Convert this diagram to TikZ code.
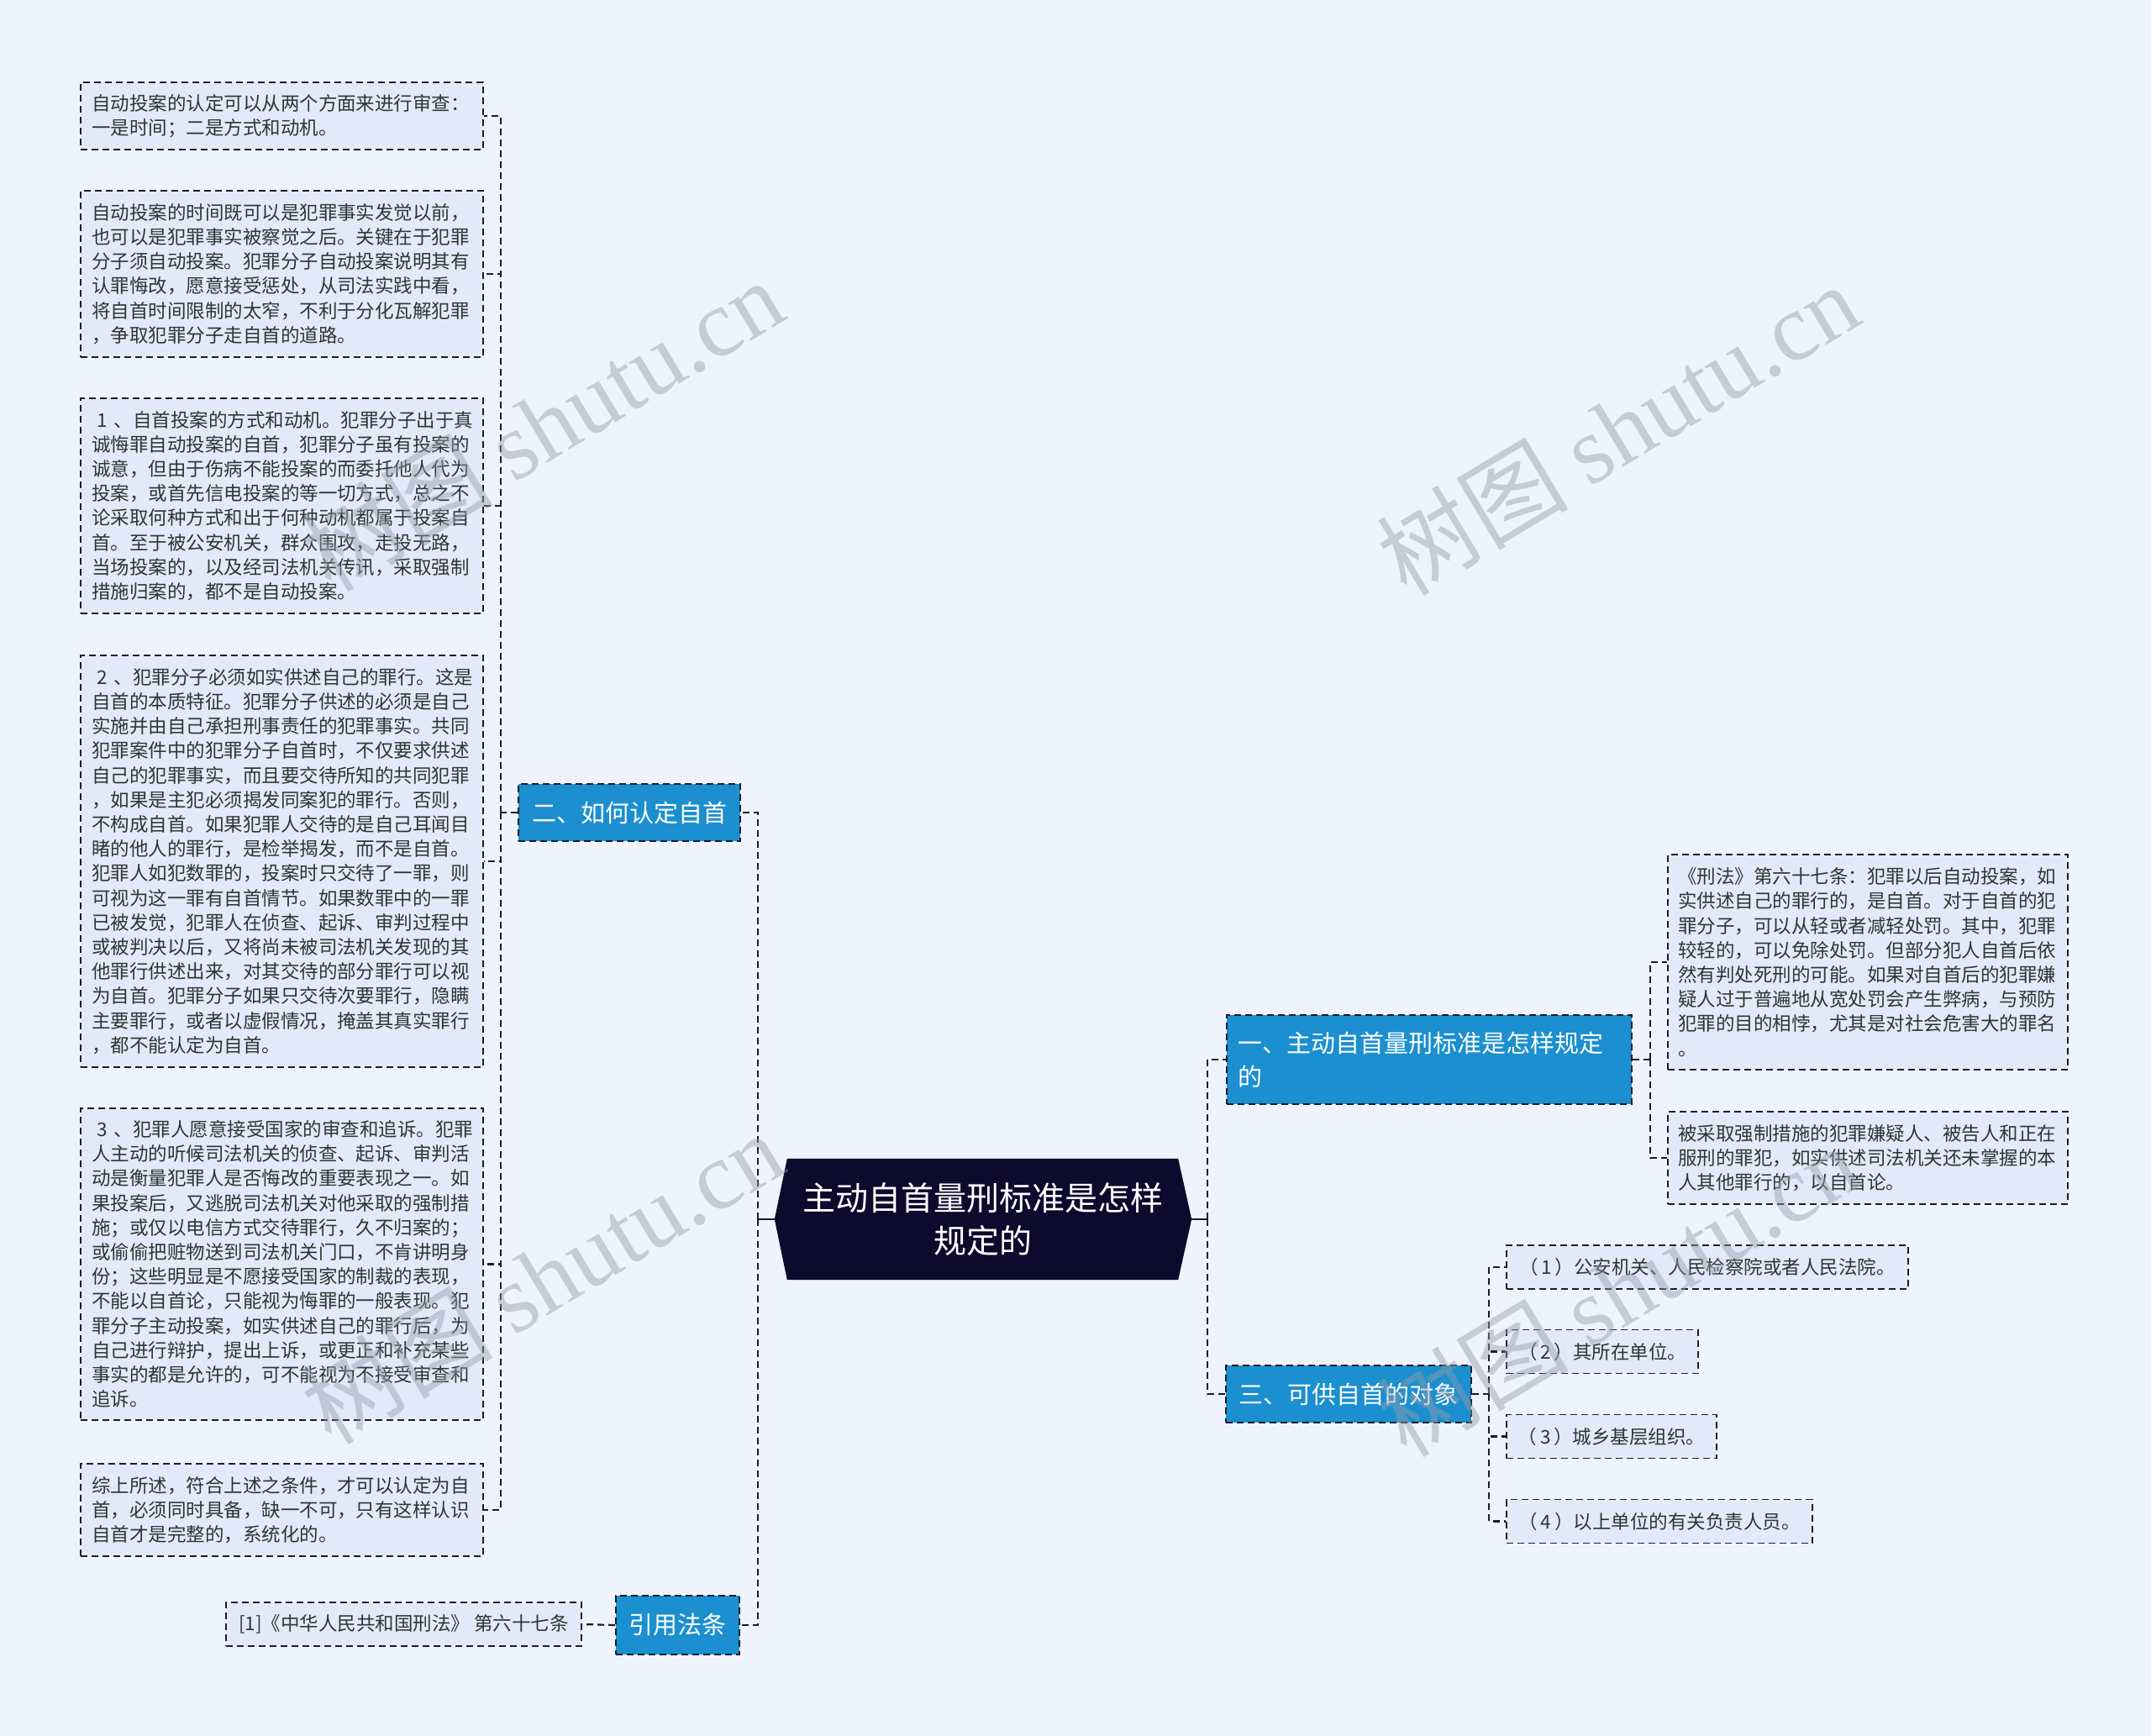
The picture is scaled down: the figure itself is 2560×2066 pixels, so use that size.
\documentclass[tikz,border=0pt]{standalone}
\usepackage{fontspec}
\setmainfont{Noto Sans CJK SC}
\newfontfamily\wmfont{Liberation Serif}
\usetikzlibrary{calc}
\definecolor{bg}{RGB}{238,243,254}
\definecolor{leaffill}{RGB}{226,234,250}
\definecolor{bluefill}{RGB}{27,143,208}
\definecolor{rootfill}{RGB}{13,10,46}
\definecolor{txt}{RGB}{51,51,51}
\definecolor{edge}{RGB}{28,28,38}
\definecolor{wm}{RGB}{150,155,168}
\begin{document}
\begin{tikzpicture}[x=1pt,y=-1pt,
  conn/.style={draw=edge, line width=2.2pt, dash pattern=on 8pt off 5pt},
  solidconn/.style={draw=edge, line width=2.2pt},
  leaf/.style={draw=edge, line width=1.8pt, dash pattern=on 8pt off 5pt, fill=leaffill, text=txt, align=left, inner xsep=13pt, inner ysep=0pt, font=\fontsize{22.5}{29.2}\selectfont},
  item/.style={draw=edge, line width=1.8pt, dash pattern=on 8pt off 5pt, fill=leaffill, text=txt, inner xsep=10pt, inner ysep=0pt, minimum height=52pt, font=\fontsize{22.5}{29.2}\selectfont},
  topic/.style={draw=edge, line width=1.8pt, dash pattern=on 8pt off 5pt, fill=bluefill, text=white, inner xsep=13pt, inner ysep=0pt, font=\fontsize{29}{40}\selectfont},
  wmark/.style={text=wm, opacity=0.45, rotate=31, font=\fontsize{114}{114}\selectfont}
]
\useasboundingbox[fill=bg] (0,0) rectangle (2560,2066);

% root
\node[inner sep=0pt, minimum width=496pt, minimum height=144pt] (root) at (1170,1451) {};
\fill[rootfill] (root.west) -- ($(root.north west)+(15,0)$) -- ($(root.north east)+(-16,0)$) -- (root.east) -- ($(root.south east)+(-16,0)$) -- ($(root.south west)+(15,0)$) -- cycle;
\node[text=white, align=center, font=\fontsize{39}{51}\selectfont] (roottext) at (root.center) {主动自首量刑标准是怎样\\规定的};

% main topics
\node[topic, minimum width=264pt, minimum height=68pt] (n2) at (749,967) {二、如何认定自首};
\node[topic, minimum width=147pt, minimum height=70pt] (cite) at (806.5,1934) {引用法条};
\node[topic, text width=456pt, align=left, minimum height=106pt] (n1) at (1701,1261) {一、主动自首量刑标准是怎样规定\\的};
\node[topic, minimum width=292pt, minimum height=68pt] (n3) at (1605,1659) {三、可供自首的对象};

% left leaves
\node[leaf, text width=453pt, minimum height=80pt] (b1) at (335.5,138) {自动投案的认定可以从两个方面来进行审查：\\一是时间；二是方式和动机。};
\node[leaf, text width=453pt, minimum height=198pt] (b2) at (335.5,326) {自动投案的时间既可以是犯罪事实发觉以前，\\也可以是犯罪事实被察觉之后。关键在于犯罪\\分子须自动投案。犯罪分子自动投案说明其有\\认罪悔改，愿意接受惩处，从司法实践中看，\\将自首时间限制的太窄，不利于分化瓦解犯罪\\，争取犯罪分子走自首的道路。};
\node[leaf, text width=453pt, minimum height=256pt] (b3) at (335.5,602) {\hspace*{0.3em}1 、自首投案的方式和动机。犯罪分子出于真\\诚悔罪自动投案的自首，犯罪分子虽有投案的\\诚意，但由于伤病不能投案的而委托他人代为\\投案，或首先信电投案的等一切方式，总之不\\论采取何种方式和出于何种动机都属于投案自\\首。至于被公安机关，群众围攻，走投无路，\\当场投案的，以及经司法机关传讯，采取强制\\措施归案的，都不是自动投案。};
\node[leaf, text width=453pt, minimum height=490pt] (b4) at (335.5,1025) {\hspace*{0.3em}2 、犯罪分子必须如实供述自己的罪行。这是\\自首的本质特征。犯罪分子供述的必须是自己\\实施并由自己承担刑事责任的犯罪事实。共同\\犯罪案件中的犯罪分子自首时，不仅要求供述\\自己的犯罪事实，而且要交待所知的共同犯罪\\，如果是主犯必须揭发同案犯的罪行。否则，\\不构成自首。如果犯罪人交待的是自己耳闻目\\睹的他人的罪行，是检举揭发，而不是自首。\\犯罪人如犯数罪的，投案时只交待了一罪，则\\可视为这一罪有自首情节。如果数罪中的一罪\\已被发觉，犯罪人在侦查、起诉、审判过程中\\或被判决以后，又将尚未被司法机关发现的其\\他罪行供述出来，对其交待的部分罪行可以视\\为自首。犯罪分子如果只交待次要罪行，隐瞒\\主要罪行，或者以虚假情况，掩盖其真实罪行\\，都不能认定为自首。};
\node[leaf, text width=453pt, minimum height=371pt] (b5) at (335.5,1504.5) {\hspace*{0.3em}3 、犯罪人愿意接受国家的审查和追诉。犯罪\\人主动的听候司法机关的侦查、起诉、审判活\\动是衡量犯罪人是否悔改的重要表现之一。如\\果投案后，又逃脱司法机关对他采取的强制措\\施；或仅以电信方式交待罪行，久不归案的；\\或偷偷把赃物送到司法机关门口，不肯讲明身\\份；这些明显是不愿接受国家的制裁的表现，\\不能以自首论，只能视为悔罪的一般表现。犯\\罪分子主动投案，如实供述自己的罪行后，为\\自己进行辩护，提出上诉，或更正和补充某些\\事实的都是允许的，可不能视为不接受审查和\\追诉。};
\node[leaf, text width=453pt, minimum height=110pt] (b6) at (335.5,1797) {综上所述，符合上述之条件，才可以认定为自\\首，必须同时具备，缺一不可，只有这样认识\\自首才是完整的，系统化的。};
\node[item, minimum width=423pt] (ref) at (480.5,1933) {[1]《中华人民共和国刑法》 第六十七条};

% right leaves
\node[leaf, text width=452pt, inner xsep=12pt, minimum height=256pt] (ra) at (2223,1145) {《刑法》第六十七条：犯罪以后自动投案，如\\实供述自己的罪行的，是自首。对于自首的犯\\罪分子，可以从轻或者减轻处罚。其中，犯罪\\较轻的，可以免除处罚。但部分犯人自首后依\\然有判处死刑的可能。如果对自首后的犯罪嫌\\疑人过于普遍地从宽处罚会产生弊病，与预防\\犯罪的目的相悖，尤其是对社会危害大的罪名\\。};
\node[leaf, text width=452pt, inner xsep=12pt, minimum height=110pt] (rb) at (2223,1378) {被采取强制措施的犯罪嫌疑人、被告人和正在\\服刑的罪犯，如实供述司法机关还未掌握的本\\人其他罪行的，以自首论。};
\node[item, minimum width=478pt] (i1) at (2032,1508) {（\,1\,）公安机关、人民检察院或者人民法院。};
\node[item, minimum width=228pt] (i2) at (1907,1608.5) {（\,2\,）其所在单位。};
\node[item, minimum width=250pt] (i3) at (1918,1709.5) {（\,3\,）城乡基层组织。};
\node[item, minimum width=364pt] (i4) at (1975,1810.5) {（\,4\,）以上单位的有关负责人员。};

% connectors
\coordinate (jl) at (902,1451);
\coordinate (jr) at (1437,1451);
\coordinate (j2) at (596,967);
\coordinate (j1) at (1964,1261);
\coordinate (j3) at (1772,1659);
\draw[solidconn] (root.west) -- (jl);
\draw[solidconn] (root.east) -- (jr);
\draw[conn] (jl) |- (n2.east);
\draw[conn] (jl) |- (cite.east);
\draw[conn] (jr) |- (n1.west);
\draw[conn] (jr) |- (n3.west);
\draw[conn] (n2.west) -- (j2);
\foreach \b in {b1,b2,b3,b4,b5,b6} { \draw[conn] (j2) |- (\b.east); }
\draw[conn] (cite.west) -- (ref.east);
\draw[conn] (n1.east) -- (j1);
\draw[conn] (j1) |- (ra.west);
\draw[conn] (j1) |- (rb.west);
\draw[conn] (n3.east) -- (j3);
\foreach \b in {i1,i2,i3,i4} { \draw[conn] (j3) |- (\b.west); }

% watermarks
\node[wmark] (wm1) at (645,505) {树图 {\wmfont shutu.cn}};
\node[wmark] (wm2) at (1925,510) {树图 {\wmfont shutu.cn}};
\node[wmark] (wm3) at (645,1520) {树图 {\wmfont shutu.cn}};
\node[wmark] (wm4) at (1925,1535) {树图 {\wmfont shutu.cn}};
\end{tikzpicture}
\end{document}
